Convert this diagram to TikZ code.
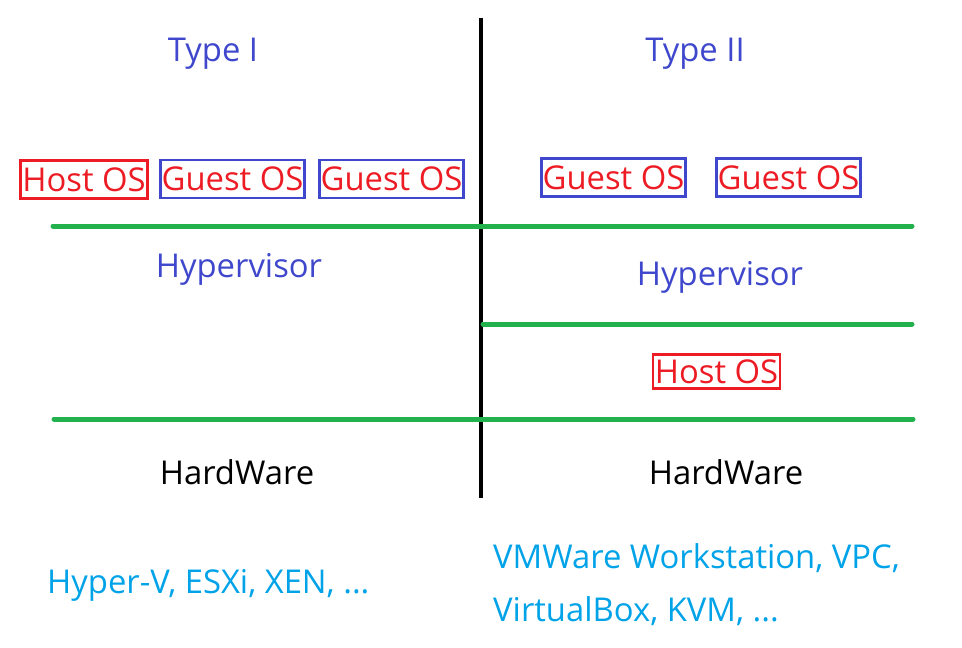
\documentclass[tikz,border=0pt]{standalone}
\usepackage{fontspec}
\setmainfont{Open Sans}
\usetikzlibrary{positioning}

\definecolor{typeblue}{HTML}{3F48CC}
\definecolor{osred}{HTML}{ED1C24}
\definecolor{layergreen}{HTML}{22B14C}
\definecolor{prodblue}{HTML}{00A2E8}

\begin{document}
\begin{tikzpicture}[x=1pt,y=-1pt,
		lbl/.style={font=\fontsize{32.8}{39}\selectfont, inner sep=0pt},
		osbox/.style={lbl, draw, line width=2.8pt, text=osred, minimum height=38pt},
		hostbox/.style={osbox, osred, minimum width=127pt},
		guestbox/.style={osbox, typeblue, text=osred, minimum width=144pt},
		layer/.style={layergreen, line width=5pt, line cap=round}]
		\useasboundingbox (0,0) rectangle (962,648);
		%\draw [help lines] (0,0) grid (962,648);
		% Trennlinie
		\coordinate (top) at (481,18);
		\coordinate (bottom) at (481,498);
		\draw [line width=4pt] (top) -- (bottom);
		% Schichten
		\coordinate (gA) at (53,226);
		\coordinate (gB) at (912,226);
		\coordinate (mA) at (483,324);
		\coordinate (mB) at (912,324);
		\coordinate (hA) at (54,419);
		\coordinate (hB) at (913,419);
		\draw [layer] (gA) -- (gB);
		\draw [layer] (mA) -- (mB);
		\draw [layer] (hA) -- (hB);
		% Type I
		\node [lbl, text=typeblue, anchor=base] (typeA) at (213,61) {Type I};
		\node [hostbox] (hostA) at (84,179.5) {Host OS};
		\node [guestbox] (guestA) at (232.5,179) {Guest OS};
		\node [guestbox] (guestB) at (391.5,179) {Guest OS};
		\node [lbl, text=typeblue, anchor=base] (hypA) at (239,277) {Hypervisor};
		\node [lbl, anchor=base] (hwA) at (237,484) {HardWare};
		\node [lbl, text=prodblue, anchor=base west] (prodA) at (47,593) {Hyper-V, ESXi, XEN, ...};
		% Type II
		\node [lbl, text=typeblue, anchor=base] (typeB) at (695,61) {Type II};
		\node [guestbox] (guestC) at (613.5,177.5) {Guest OS};
		\node [guestbox] (guestD) at (788.5,177.5) {Guest OS};
		\node [lbl, text=typeblue, anchor=base] (hypB) at (720,285) {Hypervisor};
		\node [hostbox, minimum height=34pt] (hostB) at (716.5,371.5) {Host OS};
		\node [lbl, anchor=base] (hwB) at (726,484) {HardWare};
		\node [lbl, text=prodblue, anchor=base west] (prodB) at (493,568) {VMWare Workstation, VPC,};
		\node [lbl, text=prodblue, anchor=base west] (prodC) at (493,621) {VirtualBox, KVM, ...};
	\end{tikzpicture}
\end{document}
